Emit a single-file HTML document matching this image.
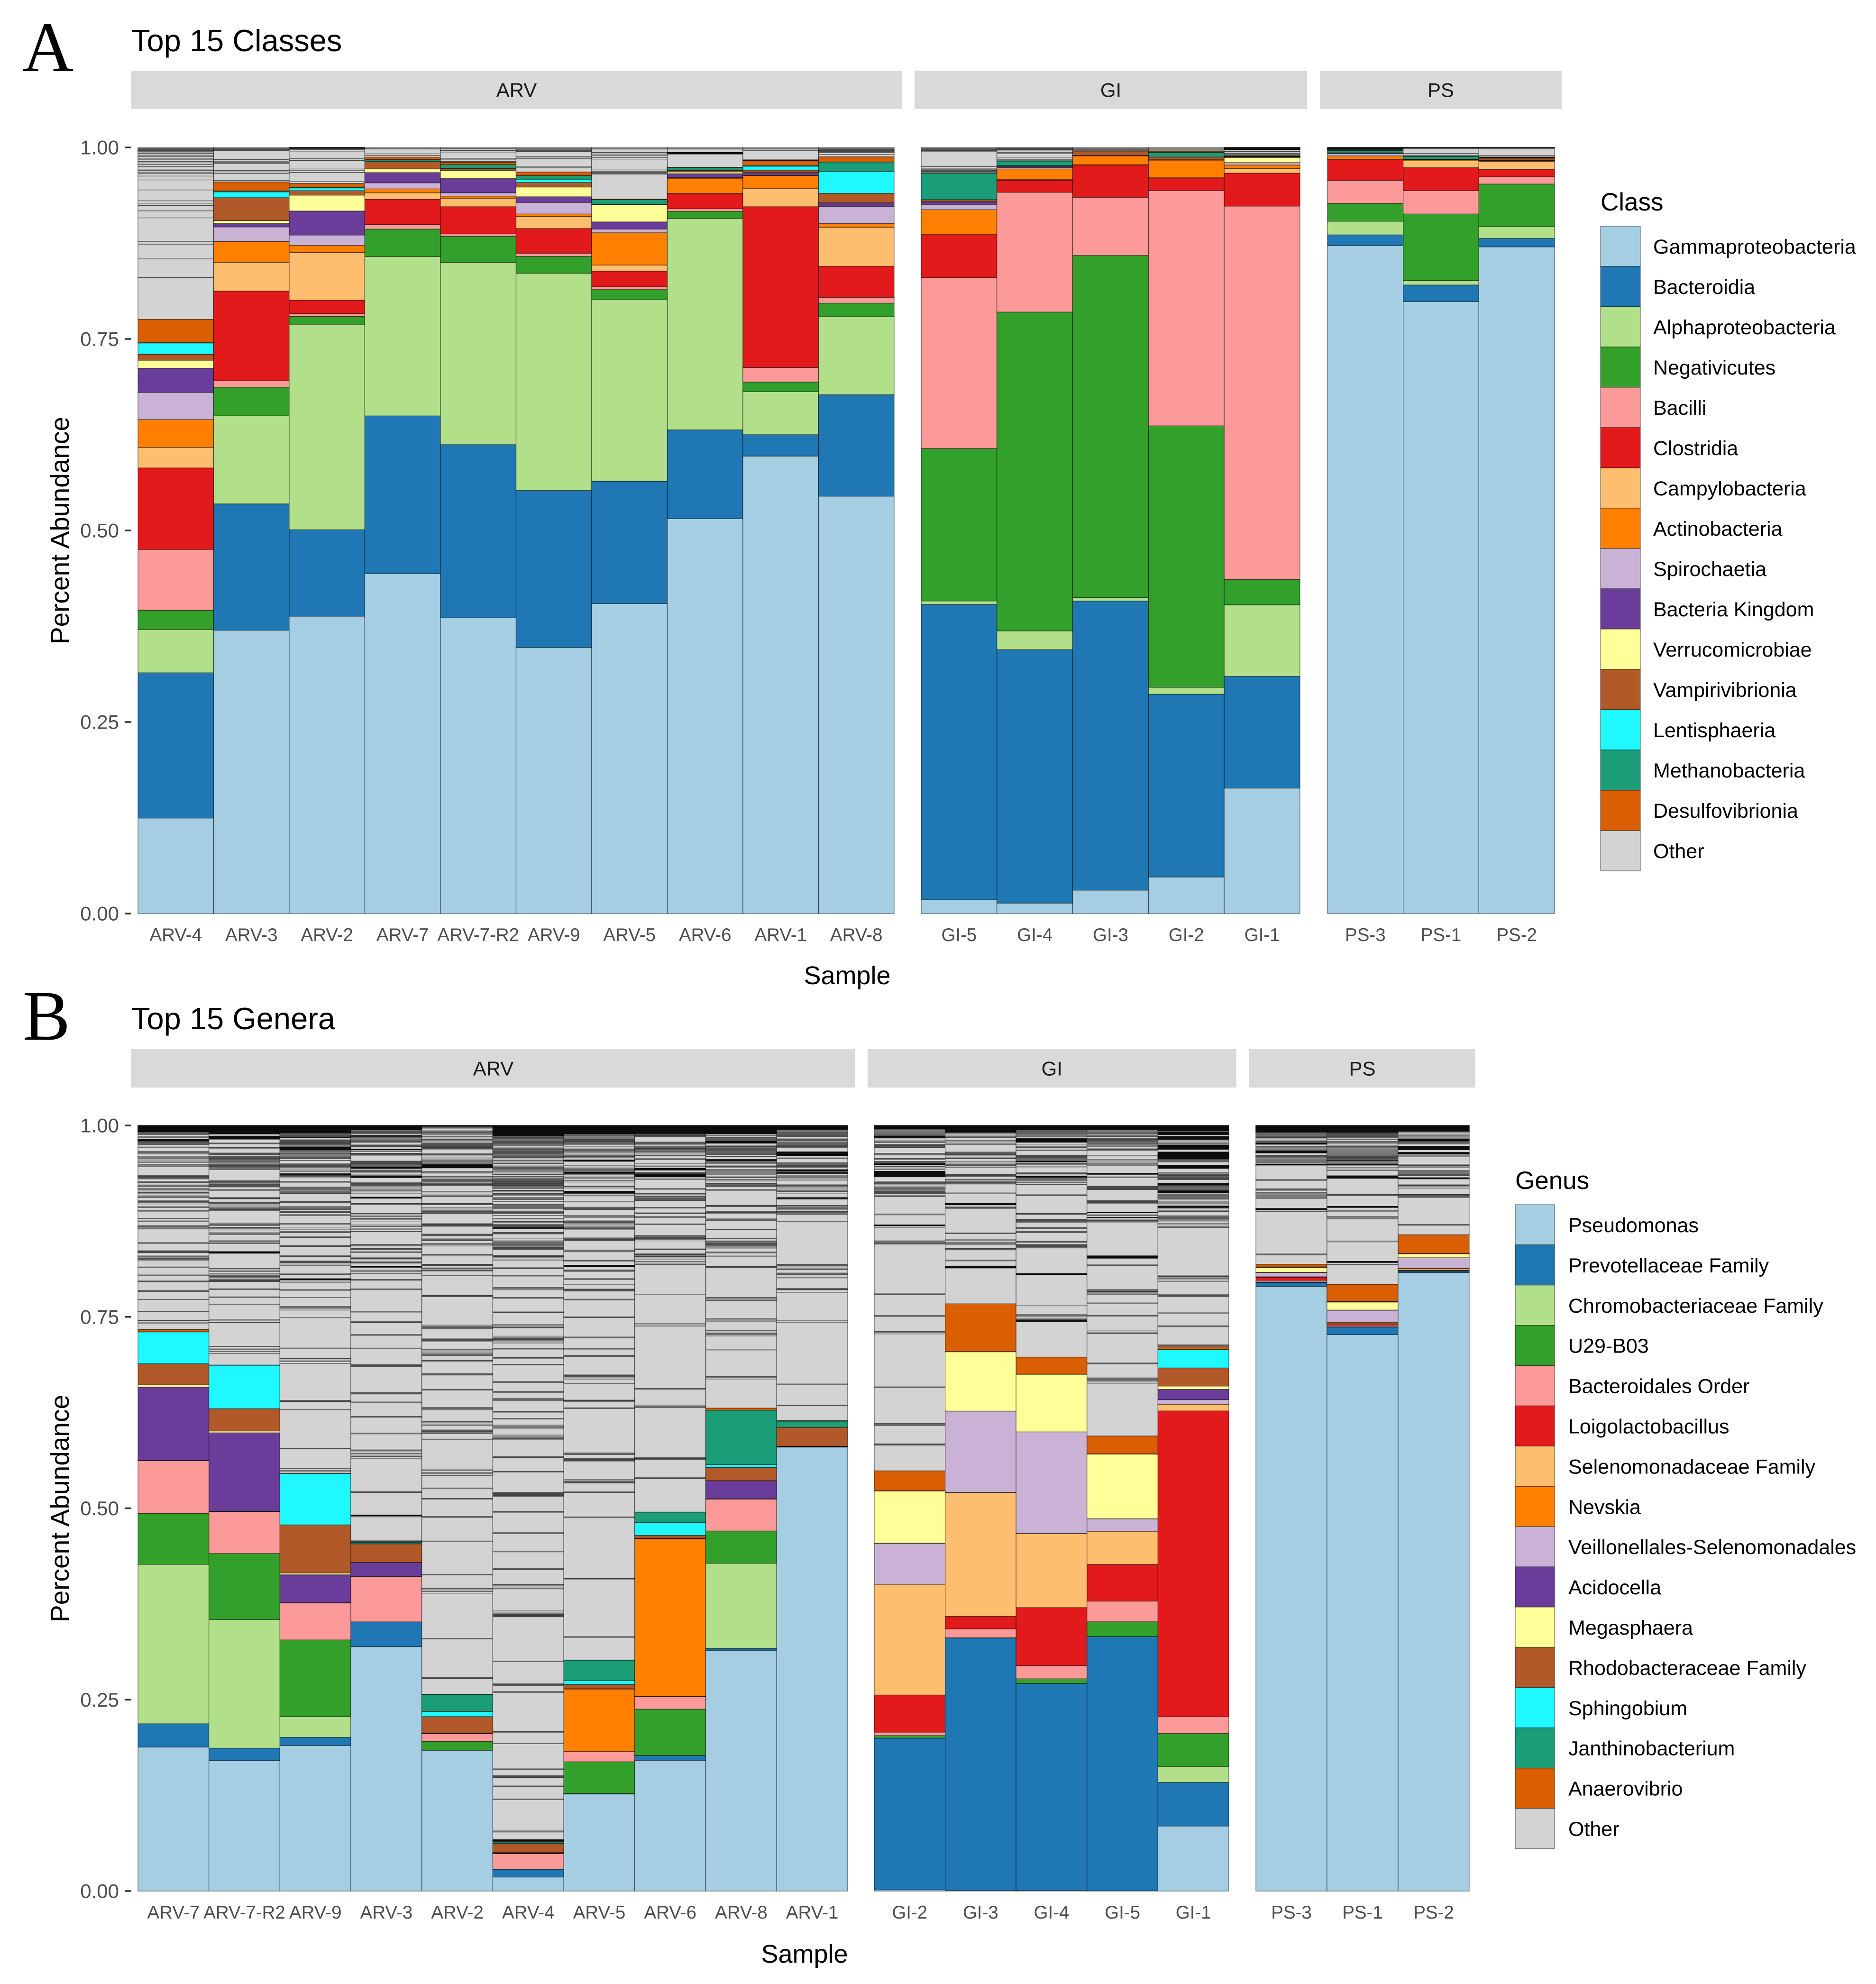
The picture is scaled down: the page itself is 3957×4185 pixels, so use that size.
<!DOCTYPE html>
<html lang="en">
<head>
<meta charset="utf-8">
<title>Top 15 Classes and Genera</title>
<style>
html,body{margin:0;padding:0;background:#fff}
svg{display:block}
text{font-family:"Liberation Sans",Arial,sans-serif}
</style>
</head>
<body>
<svg id="figure" xmlns="http://www.w3.org/2000/svg" width="3957" height="4185" viewBox="0 0 3957 4185">
<rect x="0" y="0" width="3957" height="4185" fill="#fff"/>
<text x="47" y="150" font-size="150" style="font-family:'Liberation Serif',serif">A</text>
<text x="48" y="2193" font-size="150" style="font-family:'Liberation Serif',serif">B</text>
<text x="277" y="108" font-size="65">Top 15 Classes</text>
<text x="277" y="2171" font-size="65">Top 15 Genera</text>
<text x="1787" y="2076" font-size="54" text-anchor="middle">Sample</text>
<text x="1697" y="4140" font-size="54" text-anchor="middle">Sample</text>
<text transform="translate(145,1119) rotate(-90)" font-size="55" text-anchor="middle">Percent Abundance</text>
<text transform="translate(145,3182) rotate(-90)" font-size="55" text-anchor="middle">Percent Abundance</text>
<text x="3376" y="444" font-size="53">Class</text>
<text x="3196" y="2508" font-size="53">Genus</text>
</svg>
<script>
// ---------- shared chart values ----------
const fillColors = ["#a6cee3","#1f78b4","#b2df8a","#33a02c","#fb9a99","#e31a1c","#fdbf6f","#ff7f00","#cab2d6","#6a3d9a","#ffff99","#b15928","#1ff8ff","#1b9e77","#d95f02","#d3d3d3"];
const classNames = ["Gammaproteobacteria","Bacteroidia","Alphaproteobacteria","Negativicutes","Bacilli","Clostridia","Campylobacteria","Actinobacteria","Spirochaetia","Bacteria Kingdom","Verrucomicrobiae","Vampirivibrionia","Lentisphaeria","Methanobacteria","Desulfovibrionia","Other"];
const genusNames = ["Pseudomonas","Prevotellaceae Family","Chromobacteriaceae Family","U29-B03","Bacteroidales Order","Loigolactobacillus","Selenomonadaceae Family","Nevskia","Veillonellales-Selenomonadales","Acidocella","Megasphaera","Rhodobacteraceae Family","Sphingobium","Janthinobacterium","Anaerovibrio","Other"];
const yTickValues = [0,250,500,750,1000];
const yTickLabels = ["0.00","0.25","0.50","0.75","1.00"];
const facetLabels = ["ARV","GI","PS"];

// ---------- panel A samples ----------
const classSamplesARV = ["ARV-4","ARV-3","ARV-2","ARV-7","ARV-7-R2","ARV-9","ARV-5","ARV-6","ARV-1","ARV-8"];
const classSamplesGI = ["GI-5","GI-4","GI-3","GI-2","GI-1"];
const classSamplesPS = ["PS-3","PS-1","PS-2"];

// panel A abundances per sample, per mille, stacked bottom to top in classNames order
const classARV4 = [124.6,189.7,56.4,25.2,79.4,106.4,26.8,36.3,35.5,31.6,10.3,7.9,14.6,.5,30.4];
const classARV3 = [369.9,164.9,114.8,37.5,8.3,117.2,37.5,27.2,18.9,4.4,3.9,30,7.5,1.2,11.8];
const classARV2 = [388.1,112.9,268.2,10.2,3.6,17.7,62.3,9.1,13.5,31.5,20.6,5.9,3.5,.9,5];
const classARV7 = [443.7,205.9,208,35.9,5.9,33.1,8.3,5.1,7.9,13.4,4.8,9.5,.5,2.2,3.2];
const classARV7R2 = [385.9,226.2,237.9,34,3.1,35.6,11,2.8,4.3,18.6,10.6,2.4,.3,4.8,3.2];
const classARV9 = [347.3,204.9,283.6,22.1,4,32.3,15.8,3.2,15,7.5,12.6,5.9,3.6,5.5,4.7];
const classARV5 = [404.6,159.7,236.8,13.4,3.6,20.5,7.9,42.2,4.8,9.4,22.1,.4,.2,6.1,.8];
const classARV6 = [515.3,116.1,275.9,9.4,3.2,19.7,.4,19.8,.8,5.1,2.3,2,.3,3.3,.4];
const classARV1 = [597.1,28,56.1,12.6,18.9,210,23.6,17,.5,3.1,.3,3.2,5.1,1.2,6.3];
const classARV8 = [544.8,132.4,101.8,17.8,7.5,40.7,50.8,4.8,22.5,4.3,.3,12.3,28.8,12.2,6.8];
const classGI5 = [17.9,385.5,4.6,199,223,56,.3,32.4,7,3.2,.4,2.3,.2,34.6,.4];
const classGI4 = [13.6,330.8,24.5,416.3,156.3,15.8,.8,13.8,2,1.5,.3,.3,.3,5.9,.4];
const classGI3 = [30.5,377.5,4.3,446.7,75.9,42.2,.4,11.5,.2,.2,.2,5.7,.1,.2,.2];
const classGI2 = [47.7,238.7,8.9,341.3,307,16.5,.4,22.9,.2,.2,.2,3.4,.1,6,1.6];
const classGI1 = [163.7,145.9,93.4,33.2,487.2,43.1,5.9,4.7,2.8,.3,6.8,.2,.1,.1,.1];
const classPS3 = [871.8,14.1,17.8,23.3,30,26.8,.5,4.7,3.1,.4,.2,.2,.1,3,.2];
const classPS1 = [798.8,21.7,5.9,86.8,30.4,30,9,1.2,.2,.2,.2,.2,.2,3.6,.4];
const classPS2 = [870.2,11,15.4,55.7,9.4,9.5,10.6,1.2,.2,.2,.2,2.4,.1,.3,.3];

// panel A: relative sizes of the minor taxa inside "Other", top to bottom
const classOtherARV4 = [1,1,1,1,1,1,2,2,2,2,2,2,2,2,3,3,2,2,2,3,5,13,14,3,3,7,9,30,1,3,19,24,54];
const classOtherARV3 = [1,1,1,1,12,2,1,1,1,9,2,2,9,2];
const classOtherARV2 = [.7,.7,1,2,9,2,10,2,2,11,2];
const classOtherARV7 = [1,1,6,2,2];
const classOtherARV7R2 = [1,1,2,2,8,2,2,1];
const classOtherARV9 = [1,1,1,1,1,6,2,1,9,2,5];
const classOtherARV5 = [1,1,4,2,2,2,2,13,2,1,1,1,30];
const classOtherARV6 = [1,1,4,.7,.7,.7,16];
const classOtherARV1 = [1,1,2,11,.7];
const classOtherARV8 = [1,1,1,1,1,2,2];
const classOtherGI5 = [1,1,1,1,1,20,2,2,1,1,1,1];
const classOtherGI4 = [1,1,1,2,2,2,6,2,1,1];
const classOtherGI3 = [1,1,1,1];
const classOtherGI2 = [1,1,1,1];
const classOtherGI1 = [.7,.7,.7,.7,2,2,1,1,1,.7,.7];
const classOtherPS3 = [.7,.7,.7,.7,1];
const classOtherPS1 = [.7,1,6,2,1];
const classOtherPS2 = [.7,1,8,2,.7];

// ---------- panel B samples ----------
const genusSamplesARV = ["ARV-7","ARV-7-R2","ARV-9","ARV-3","ARV-2","ARV-4","ARV-5","ARV-6","ARV-8","ARV-1"];
const genusSamplesGI = ["GI-2","GI-3","GI-4","GI-5","GI-1"];
const genusSamplesPS = ["PS-3","PS-1","PS-2"];

// panel B abundances per sample, per mille, stacked bottom to top in genusNames order
const genusARV7 = [188.1,30.5,208.2,66.5,68.7,.1,.1,.1,.1,96,2.8,27.6,41.5,.2,3];
const genusARV7R2 = [170.4,16.3,168,86.2,54.7,.1,.1,.1,.1,102.6,2.3,29.1,56.8,.2,.2];
const genusARV9 = [190,10.8,27.1,100.2,48.2,.1,.1,.1,.1,36.5,2.3,62.8,66.9,.1,.1];
const genusARV3 = [319.2,32.3,.1,.1,58.7,.1,.1,.1,.1,18.4,.1,24.2,.1,2.1,.1];
const genusARV2 = [183.9,.1,.1,11.5,10.3,.1,.1,.1,.1,.1,.1,21.4,6.6,22.4,.1];
const genusARV4 = [18.3,10.2,.1,.1,20.2,.1,.1,.1,.1,.9,.1,11.7,.1,2,.9];
const genusARV5 = [126.8,.5,.1,41.5,13.1,.1,.1,81.7,.1,.1,.1,5.6,5.1,26.7,.2];
const genusARV6 = [170.8,6.1,.1,60.7,16.4,.1,.1,206.2,.1,.1,.1,3.8,16.8,13.6,.1];
const genusARV8 = [314,2.8,111.4,42.1,41.7,.1,.1,.1,.1,23.5,.1,17.3,3.7,71.1,2.8];
const genusARV1 = [579.9,.2,.1,.1,.2,.1,.1,.1,.1,.1,.1,24.7,.1,7.9,.8];
const genusGI2 = [1.5,198.2,.1,3.3,4.4,48.6,144.7,.1,53.4,.1,68.2,.1,.1,.1,26];
const genusGI3 = [.5,330.2,.1,.1,11.5,16.5,161.7,.1,106.2,.1,77.3,.1,.1,.1,62.5];
const genusGI4 = [.5,270.7,.1,6,17.1,75.9,96.7,.1,132.6,.1,75.2,.1,.1,.1,22.2];
const genusGI5 = [.3,332,.1,19.4,26.9,48,43.3,.1,16.1,.1,84.5,.1,.1,.1,23.4];
const genusGI1 = [84.9,57.1,20.8,43,21.8,399.6,8.7,.1,5.8,13.5,4.3,23.7,23.7,.3,3.7];
const genusPS3 = [789.9,5.1,.1,.5,2.2,4,.3,.3,5.4,.3,6.5,.3,.2,.2,3.5];
const genusPS1 = [726.7,9.9,.1,.4,2,2,1,1,15.6,.3,10.3,.5,.2,.2,22.4];
const genusPS2 = [807.7,2,.1,.3,.5,.6,2,.5,13.4,.2,5,.2,.1,.1,24.5];

// panel B: relative sizes of the minor genera inside "Other", top to bottom
const genusOtherARV7 = [.7,.7,.7,.7,.7,.7,.7,.7,.7,.7,.7,.7,1,1,1,2,1,1,1.5,.7,.7,.7,.7,1,1,1,1,3,1,4.5,1.5,1.5,3,1,1,1,1.5,1.5,1.5,2.5,1,1,1,11,1,1,1,1,3,1.5,3,1,1,2.5,1,2,2,1.5,1.5,1.5,1.5,3.5,1.5,1.5,1.5,3.5,1,3.5,1,9,2,2,5,1,1,1,1,17,1,9,.8,.8,.8,3,1.5,1,1.5,1.5,1.5,6.5,1.5,9.5,1,6.5,1,11,1,10,15,11,2,2,7];
const genusOtherARV7R2 = [.7,.7,.7,.7,.7,.7,.7,.7,.7,.7,.7,.7,.7,.7,.7,1.5,1.5,.7,.7,.7,.7,.7,1,4,1,4.5,1,6,1,1,2.5,.8,.8,.8,.8,1,1,1,1,1,1.5,1.5,1,1,1,1,1,14,1,1,1,1.5,1.5,.8,.8,3.5,.8,9,.8,.8,4.5,1.5,1.5,1.5,1.5,1.5,.8,.8,.8,16,1.5,1.5,2.5,1.5,1.5,3.5,1,1,8,1,1.5,1,10,.7,.7,.7,19,2,2,2,1,1.5,1.5,1.5,1.5,1,.8,.8,.8,9,1,9,1,8,1,18,2,2,30,2,2,2,3,14];
const genusOtherARV9 = [.7,.7,.7,.7,.7,.7,.7,.7,.7,.7,.7,.7,.7,.7,1,1,1,1,1,.7,1.5,1.5,1,.8,.8,.8,.8,1,1,1,1,.7,.7,.7,.7,.7,.7,1.5,1.5,1,1,1,1,1,1,1,2.5,3.5,1.5,1.5,1,1.5,1.5,1.5,1.5,3,.7,.7,.7,1.5,1.5,4.5,1,6,1,1,1,1,1,1,1,1,10,.8,.8,4.5,1,1,1,1,2,.8,.8,2.5,1,10,1.5,4,1.5,3,1,5.5,1,10,1,11.5,1,5.5,.8,.8,.8,2.5,1,10,1,5,.7,.7,1.5,1.5,9,1,9,11,1.5,1.5,1.5,9,38,1,12,2,2,2,46,.8,.8,10,48,25,2,2,2];
const genusOtherARV3 = [.7,.7,.7,.7,.7,.7,.7,.7,1,1,1,1,1,2,.7,.7,1,1,1,1,1,1,1,3.5,1,1,3,.7,.7,2,2,.8,.8,.8,7.5,.8,.8,.8,.8,.8,.8,1,1,1,.7,.7,2,1,1,1.5,1.5,1.5,1.5,.7,.7,6.5,1,1,1.5,1.5,1.5,1.5,1.5,2,1.5,5,.7,.7,6.5,1,11.5,2,2,2.5,1.5,1.5,5,2,2,2,2,16.5,1.5,3.5,1,3,1,6.5,.8,.8,3.5,.8,.8,4,.7,.7,3.5,2,2,7.5,1,11,1,27,1,12,1,15,1,16,1,20,1,1,33,.8,.8,10,1,17,1,20,1,19,1.5,2,2,2,2,2,42,1,28,.7,.7,1,30,.8,.8];
const genusOtherARV2 = [.7,.7,1.5,1.5,1.5,1.5,1.5,1,2,2,2,2,1.5,1.5,1.5,1,1,1,.8,.8,1,1,1,6,.8,.8,3.5,1.5,1.5,1.5,1,2,1,.7,.7,.7,.7,.7,.7,4.5,1,1,4.5,1.5,1.5,1,1,1.5,1.5,1,1,1,7.5,1,2.5,1.5,1.5,9,.8,.8,4,1.5,1.5,1.5,1.5,1,13,.8,.8,.8,.8,10,1,1,4,1,1,4,1.5,1.5,11,1.5,10.5,.8,.8,2,1.5,1,1.5,1,6,25,.8,.8,36,1.5,1.5,1.5,12,1.5,1.5,1.5,10,1.5,1.5,1.5,1.5,1.5,6,1,16,.8,.8,18,1,22,1.5,1.5,15,1.5,1.5,1.5,5,1.5,1.5,1.5,1,7,1,37,2,2,2,2,16,1,12,1,22,1,30,1,41,1,17,2,2,2,57,1,49,1,20];
const genusOtherARV4 = [.7,.7,.7,.7,.7,.7,.7,.7,.7,.7,.7,.7,.7,.7,.7,.7,.7,.7,.7,.7,1,1,1,1,1,1,1,1,1,1,1,1,1,1.5,1.5,1.5,1.5,1,1,1,1,1,1,1,1,1,2,2,2,2,2,1.5,1.5,1.5,1.5,1.5,1.5,1.5,1.5,.8,2,2,1,1,1,1,1,1,.8,.8,.8,.8,.8,.8,1,1,1,3,.7,3,1.5,1.5,2,1.5,1.5,2,1,3.5,1,1.5,1.5,1.5,3,1,1,1,3,3.5,1,3.5,.7,3,1,1,1,1,.7,.7,5,1,1,6.5,1.5,1.5,1.5,1.5,1.5,1.5,1.5,.8,.8,.8,.8,8,.8,.8,1.5,1.5,1.5,10,1,9,1,15,1.5,1.5,10,1,18,.8,16,1.5,1.5,1,11,1.5,1.5,1.5,1.5,1.5,1.5,7,1,11,1,8,.8,22,1,12,1,8,1.5,1.5,14,1,8,1,8,1.5,1.5,1,9,1.5,1.5,1.5,1,23,1,18,1,27,.8,.8,.8,.8,.8,.8,20,1,26,1,1,23,1,22,1,20,1.5,1.5,1.5,1,29,1.5,1.5,1.5,.8,.8,.8,.8,58,1,29,1,1,8,1.5,51,1,14,1,33,1,8,.8,.8,.8,11,1,16,1,40,1.5,1,10,.7,.7,.7];
const genusOtherARV5 = [.7,.7,.7,.7,.7,.7,.7,.7,.7,.7,.7,.7,.7,.7,.7,1,1,1,1,1,1,.8,.8,.8,.8,.8,1,1,1,3,1.5,1.5,1.5,1.5,1.5,1.5,1.5,1.5,1.5,1.5,1.5,.7,.7,5.5,1.5,1.5,1.5,1.5,1.5,.7,.7,.7,1.5,1.5,1.5,2,2,2,5,.8,1.5,4,.7,.7,.7,.7,2,1,6.5,1,6.5,1,1,1,7,1.5,1,3.5,1.5,1.5,1.5,1.5,1.5,1.5,1.5,1.5,10,1,1,.8,.8,11.5,1,1,10.5,1,5,.7,.7,.7,4,.8,.8,9,1,6,6,.8,.8,.8,10,1,21,.8,24,1,13,1,8,1,22,1.5,1.5,1.5,1.5,5,1,20,.8,.8,8,.8,55,1,1,5,1,1,1,23,1.5,1,.8,.8,11,1,30,1,75,.8,71,1,28];
const genusOtherARV6 = [.7,.7,.7,.7,.7,.7,.7,.7,.7,.7,.7,.7,.7,.7,.7,.8,.8,.8,1,7,1,1,1.5,1.5,1,1,1,1,1,1,1,1.5,1.5,1.5,.8,3.5,1,5.5,1.5,1.5,2.5,.6,.6,.6,.6,3,.8,.8,.8,.6,.6,.6,.6,.6,1.5,1.5,11.5,1,5.5,1.5,1.5,.8,1,1,1,1,1,8.5,.8,6,.8,4,1,8,.8,14,1,1,.8,.8,1.5,1.5,10,.8,5.5,.7,1,1,.8,1.5,1.5,3,2,2,37,37,1.5,1.5,78,1,20,1.5,1.5,63,1,1,23,1,42];
const genusOtherARV8 = [.7,.7,.7,.7,.7,.7,.7,.7,.7,.7,.7,.7,.7,.7,2,2,.8,.8,.8,1,1,.7,.7,.7,3,.8,.8,.8,.8,.8,1,1,1,1,1,1,2,3.5,.7,.7,1,1,1.5,1.5,1.5,1.5,2,1,1,1,1,1,1,1.5,1.5,2.5,1.5,3,.8,.8,.8,.8,3.5,1,17,.8,.8,5,.8,.8,.8,6.5,1,1,10,10.5,1.5,1.5,1.5,.8,.8,.8,.8,1,1,1,4.5,1,3.5,1,11,1,34,1,2,1,20,1,1,1,1,10,1.5,1.5,1.5,1.5,15,1,30,1.5,1.5,33];
const genusOtherARV1 = [.7,.7,.7,.7,.7,.7,.7,.7,1,1,1,1,1,1,1,1,2,1.5,1.5,1.5,.8,1,1,1,1,1,1,5.5,.7,.7,.7,.7,.7,.7,.7,1.5,1.5,5,1,1,1,1,1,1,3,.7,.7,1,1,.7,.7,2,1,1,1,1.5,1.5,5,1.5,1.5,1.5,1.5,1.5,1.5,2,5,.8,.8,.7,8,.7,1.5,1.5,1.5,2,1,1,1,1,8,53,1.5,1.5,1.5,1.5,4.5,1,1,3,1,13,.8,.8,3,35,1.5,1,75,1,25,.8,18];
const genusOtherGI2 = [.7,.7,.7,.7,.7,.7,.7,1,1,1,1,1,1.5,1.5,.7,.7,.7,.7,2.5,1.5,1.5,2.5,.8,.8,.8,.8,.8,7,1,1,4.5,1.5,2,1,1,1,.7,.7,2,2,2,2,.7,.7,.7,.7,.7,.7,.7,.7,.7,.7,5.5,1.5,1.5,1.5,1.5,1.5,1.5,1.5,1.5,.8,.8,.8,1,2,1.5,22,1,12.5,.7,.7,1.5,17,1,1,1,1,62,1,26,1,19,1.5,1.5,65,1.5,45,1.5,1,23,.8,.8,32];
const genusOtherGI3 = [.7,.7,.7,.7,.7,.7,.7,.7,.7,.7,.7,.7,1.5,1.5,1.5,1.5,3.5,1.5,1.5,1.5,9,1,1,1,1.5,1.5,1.5,4,1.5,1.5,1.5,1.5,1,8,1,1,3.5,1,1.5,1.5,.8,.8,10.5,1,11,.7,.7,.7,2.5,.8,.8,29,.8,6.5,1,1,2,1,1,5,.8,.8,12,1,6,.6,.6,.6,.6,42];
const genusOtherGI4 = [.7,.7,.7,.7,.7,.7,.7,1,1,1,1,1,1,1,1,2,.7,.7,.7,.7,.7,.7,3,1.5,1.5,1.5,1.5,6,1,1,1,1,1,1,.7,.7,1.5,1.5,1.5,1,6,1.5,1.5,1.5,.7,.7,1,1,1,1,1.5,2.5,11.5,.8,20.5,.7,6,1,1,1,6,.8,.8,3,1,10,1,2.5,.8,.8,.8,.8,.8,29,.7,.7,35,10,1,1.5,1.5,1.5,1,.7,.7,40];
const genusOtherGI5 = [.7,.7,.7,.7,.7,.7,.7,.7,1,1,1,1,1,1.5,1.5,2.5,1,1,1,1,1,1,1,1,1,1,1.5,1.5,1,6,1,4.5,1.5,1.5,1.5,1,1,1,9,.7,.7,3,1,10.5,.8,.8,.8,.8,.8,13.5,1,1,1,11,.7,2.5,1,2,.7,1.5,1.5,1,1,41,.6,.6,.6,.6,.6,8,1,29,1,1.5,.7,2,1,10,1,14,1,18,1.5,1.5,36,1,16,1.5,1.5,1.5,1.5,1.5,64];
const genusOtherGI1 = [.7,.7,.7,.7,.7,.7,.7,.7,.7,1,.7,.7,.7,.7,.7,2,.7,.7,.7,.7,.7,1.5,1.5,1.5,1,1,.7,.7,.7,.7,.7,.7,.7,3,.7,.7,.7,.7,.7,.7,.7,.7,.7,.7,.7,.7,1,1,1,4,.6,.6,.6,.6,.6,.6,4.5,1,1,.8,.8,.8,.8,.8,.8,.8,.8,4.5,.7,.7,.7,1,1,1,1,1,1,.7,.7,.7,.7,1.5,1.5,1,1,1.5,1.5,1.5,1,1,1,1.5,1.5,.7,.7,1.5,1.5,1.5,5,1,1,1,1,1,1,3,1.5,1.5,1.5,55,1.5,1.5,1,1.5,1.5,15,1.5,1,18,1,1,14,1,21,1,1];
const genusOtherPS3 = [.7,.7,.7,.7,.7,.7,.7,.7,.7,.7,.7,.7,1,1,1,1,1,1,1.5,1.5,1.5,1,1,.7,.7,2.5,1,1,1,1,1,.7,.7,.7,.7,3,1,1,1,1,1,1,1,1.5,1.5,.7,.7,17,1,10,.8,.8,2.5,1,1,1,1,1,1,1,12,.6,.6,.6,2,50,1,11];
const genusOtherPS1 = [.7,.7,.7,.7,.7,.7,.7,.7,.7,.7,.7,.7,.8,.8,.8,.8,.8,.8,.8,.8,2,2,1.5,1.5,1.5,1.5,1,1,1,1,1,1,1,1,1,1,1,1,1,1,1,1,.7,1,1,1,1,.7,.7,3,1.5,1.5,6.5,.6,.6,.6,.6,.6,19,1,13,.7,.7,3,1,1,5.5,1,1,1,26,1,23,.7,.7,2.5,23];
const genusOtherPS2 = [.7,.7,.7,.7,.7,.7,.7,.7,.7,.7,1.5,1.5,1.5,1,1,1,1,.7,.7,.7,.7,1,1,1,2.5,.7,.7,.7,.7,.7,.7,3,.7,.7,.7,1,1,1,8.5,1.5,1.5,1,3,1,1,1,1,1,1,2.5,.7,.7,6,1.5,1.5,1.5,7.5,.7,.8,.8,.8,31,1,11];

// ---------- sample groupings ----------
const classValuesARV = [classARV4,classARV3,classARV2,classARV7,classARV7R2,classARV9,classARV5,classARV6,classARV1,classARV8];
const classValuesGI = [classGI5,classGI4,classGI3,classGI2,classGI1];
const classValuesPS = [classPS3,classPS1,classPS2];
const classOtherValuesARV = [classOtherARV4,classOtherARV3,classOtherARV2,classOtherARV7,classOtherARV7R2,classOtherARV9,classOtherARV5,classOtherARV6,classOtherARV1,classOtherARV8];
const classOtherValuesGI = [classOtherGI5,classOtherGI4,classOtherGI3,classOtherGI2,classOtherGI1];
const classOtherValuesPS = [classOtherPS3,classOtherPS1,classOtherPS2];
const genusValuesARV = [genusARV7,genusARV7R2,genusARV9,genusARV3,genusARV2,genusARV4,genusARV5,genusARV6,genusARV8,genusARV1];
const genusValuesGI = [genusGI2,genusGI3,genusGI4,genusGI5,genusGI1];
const genusValuesPS = [genusPS3,genusPS1,genusPS2];
const genusOtherValuesARV = [genusOtherARV7,genusOtherARV7R2,genusOtherARV9,genusOtherARV3,genusOtherARV2,genusOtherARV4,genusOtherARV5,genusOtherARV6,genusOtherARV8,genusOtherARV1];
const genusOtherValuesGI = [genusOtherGI2,genusOtherGI3,genusOtherGI4,genusOtherGI5,genusOtherGI1];
const genusOtherValuesPS = [genusOtherPS3,genusOtherPS1,genusOtherPS2];

// ---------- drawing ----------
const svgNS = "http://www.w3.org/2000/svg";
const figure = document.getElementById("figure");
const BAR_STROKE = "#000";
const BAR_STROKE_W = 1.3;
const BAR_STROKE_OPACITY = 0.55;

function slug(s){ return s.toLowerCase().replace(/[^a-z0-9]+/g,"-"); }
function make(tag, attrs){
  const el = document.createElementNS(svgNS, tag);
  for (const k in attrs) el.setAttribute(k, attrs[k]);
  return el;
}

function drawFacet(chartId, layout, label, samples, values, others, names){
  const yScale = v => layout.yBase - (v/1000)*(layout.yBase-layout.yTop);
  const step = (layout.barsEnd-layout.barsStart)/samples.length;
  const xScale = i => layout.barsStart + i*step;

  const strip = make("rect",{x:layout.stripStart,y:layout.stripTop,width:layout.stripEnd-layout.stripStart,height:layout.stripBottom-layout.stripTop,fill:"#d9d9d9"});
  
  
  figure.appendChild(strip);
  const stripText = make("text",{x:(layout.stripStart+layout.stripEnd)/2,y:(layout.stripTop+layout.stripBottom)/2+15,"font-size":42,"text-anchor":"middle",fill:"#1a1a1a"});
  
  
  stripText.textContent = label;
  figure.appendChild(stripText);

  samples.forEach((sample,i)=>{
    const x = xScale(i);
    const g = make("g",{stroke:BAR_STROKE,"stroke-width":BAR_STROKE_W,"stroke-opacity":BAR_STROKE_OPACITY});
    
    
    figure.appendChild(g);

    let cum = 0;
    values[i].forEach((v,k)=>{
      const top = cum + v;
      const seg = make("rect",{x:x,y:yScale(top),width:step,height:Math.max(0,yScale(cum)-yScale(top)),fill:fillColors[k]});
      
      
      g.appendChild(seg);
      cum = top;
    });

    const otherList = others[i];
    const otherTotal = otherList.reduce((a,b)=>a+b,0);
    const remaining = Math.max(0,1000-cum);
    let level = 1000;
    otherList.forEach(w=>{
      const h = w/otherTotal*remaining;
      const seg = make("rect",{x:x,y:yScale(level),width:step,height:Math.max(0,yScale(level-h)-yScale(level)),fill:fillColors[15]});
      if (w <= 0.7) { seg.setAttribute("stroke-opacity","1"); seg.setAttribute("stroke","#0c0c0c"); seg.setAttribute("fill","#0c0c0c"); }
      
      
      g.appendChild(seg);
      level -= h;
    });

    const lab = make("text",{x:x+step/2,y:layout.labelY,"font-size":38.5,"text-anchor":"middle",fill:"#4d4d4d"});
    
    
    lab.textContent = sample;
    figure.appendChild(lab);
  });
}

function drawYAxis(chartId, yTop, yBase){
  const yScale = v => yBase - (v/1000)*(yBase-yTop);
  yTickValues.forEach((v,i)=>{
    const tick = make("line",{x1:263,x2:277,y1:yScale(v),y2:yScale(v),stroke:"#333333","stroke-width":3.5});
    
    
    figure.appendChild(tick);
    const t = make("text",{x:251,y:yScale(v)+14.5,"font-size":42,"text-anchor":"end",fill:"#4d4d4d"});
    
    
    t.textContent = yTickLabels[i];
    figure.appendChild(t);
  });
}

function drawLegend(chartId, names, keyX, keyW, keyTop, keyStep, textX){
  names.forEach((n,i)=>{
    const key = make("rect",{x:keyX,y:keyTop+i*keyStep,width:keyW,height:keyStep,fill:fillColors[i],stroke:"#000","stroke-opacity":0.5,"stroke-width":BAR_STROKE_W});
    
    
    figure.appendChild(key);
    const t = make("text",{x:textX,y:keyTop+i*keyStep+keyStep/2+15.5,"font-size":43,fill:"#000"});
    
    
    t.textContent = n;
    figure.appendChild(t);
  });
}

const aCommon = {yTop:311,yBase:1927,stripTop:149,stripBottom:230,labelY:1985};
const bCommon = {yTop:2374,yBase:3989,stripTop:2213,stripBottom:2294,labelY:4047};

drawYAxis("classes",aCommon.yTop,aCommon.yBase);
drawFacet("classes",Object.assign({barsStart:291,barsEnd:1886,stripStart:277,stripEnd:1902},aCommon),facetLabels[0],classSamplesARV,classValuesARV,classOtherValuesARV,classNames);
drawFacet("classes",Object.assign({barsStart:1943,barsEnd:2742,stripStart:1929,stripEnd:2757},aCommon),facetLabels[1],classSamplesGI,classValuesGI,classOtherValuesGI,classNames);
drawFacet("classes",Object.assign({barsStart:2800,barsEnd:3279,stripStart:2784,stripEnd:3294},aCommon),facetLabels[2],classSamplesPS,classValuesPS,classOtherValuesPS,classNames);
drawLegend("classes",classNames,3376,84,477,85,3487);

drawYAxis("genera",bCommon.yTop,bCommon.yBase);
drawFacet("genera",Object.assign({barsStart:291,barsEnd:1788,stripStart:277,stripEnd:1804},bCommon),facetLabels[0],genusSamplesARV,genusValuesARV,genusOtherValuesARV,genusNames);
drawFacet("genera",Object.assign({barsStart:1844,barsEnd:2592,stripStart:1830,stripEnd:2607.5},bCommon),facetLabels[1],genusSamplesGI,genusValuesGI,genusOtherValuesGI,genusNames);
drawFacet("genera",Object.assign({barsStart:2649,barsEnd:3099,stripStart:2635,stripEnd:3112},bCommon),facetLabels[2],genusSamplesPS,genusValuesPS,genusOtherValuesPS,genusNames);
drawLegend("genera",genusNames,3196,83,2541,84.9,3308);
</script>
</body>
</html>
